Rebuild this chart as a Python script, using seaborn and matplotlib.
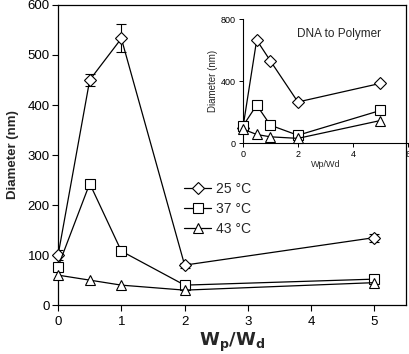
import matplotlib
matplotlib.use("Agg")
import matplotlib.pyplot as plt
import seaborn as sns
import numpy as np
import pandas as pd

# Diámetro de partícula vs relación Wp/Wd, con gráfico insertado

wp_wd = [0, 0.5, 1, 2, 5]
series = ["25 °C", "37 °C", "43 °C"]
marcadores = {"25 °C": "D", "37 °C": "s", "43 °C": "^"}
tamanos = {"25 °C": 6, "37 °C": 7.5, "43 °C": 7.5}

d25 = [100, 450, 533, 80, 135]
d37 = [77, 243, 108, 40, 52]
d43 = [60, 50, 40, 30, 45]
err25 = [10, 12, 28, 5, 8]

# inserto: DNA a polímero
ins25 = [100, 665, 530, 265, 385]
ins37 = [110, 245, 115, 50, 210]
ins43 = [90, 55, 40, 30, 145]

df = pd.DataFrame({
    "x": wp_wd * 3,
    "y": d25 + d37 + d43,
    "serie": sum([[s] * len(wp_wd) for s in series], []),
})
df_in = pd.DataFrame({
    "x": wp_wd * 3,
    "y": ins25 + ins37 + ins43,
    "serie": sum([[s] * len(wp_wd) for s in series], []),
})

sns.set_style("ticks")
plt.rcParams["font.family"] = ["Liberation Sans", "DejaVu Sans"]

fig = plt.figure(figsize=(4.09, 3.54), dpi=100)
ax = fig.add_axes([0.142, 0.138, 0.851, 0.848])

ax.errorbar(wp_wd, d25, yerr=err25, fmt="none", ecolor="black",
            elinewidth=0.8, capsize=3.5, capthick=0.8, zorder=2)
for s in series:
    sns.lineplot(data=df[df["serie"] == s], x="x", y="y", ax=ax, color="black",
                 marker=marcadores[s], markersize=tamanos[s], markerfacecolor="white",
                 markeredgecolor="black", markeredgewidth=0.8, linewidth=0.9,
                 label=s, clip_on=False, zorder=3)

ax.set_xlim(0, 5.5)
ax.set_ylim(0, 600)
ax.set_xticks([0, 1, 2, 3, 4, 5])
ax.set_yticks(range(0, 601, 100))
ax.tick_params(direction="out", length=4, width=0.8, labelsize=9.5, colors="black")
ax.tick_params(axis="y", pad=2)
for sp in ax.spines.values():
    sp.set_color("black")
    sp.set_linewidth(0.9)
ax.set_xlabel(r"$\mathbf{W_p/W_d}$", fontsize=13, labelpad=2)
ax.set_ylabel("Diameter (nm)", fontsize=9.5, fontweight="bold", labelpad=6)
ax.legend(loc="upper left", bbox_to_anchor=(0.345, 0.43), frameon=False,
          fontsize=10, handlelength=2.0, handletextpad=0.3, labelspacing=0.45,
          borderaxespad=0)

# gráfico insertado
axi = fig.add_axes([0.594, 0.596, 0.403, 0.350])
for s in series:
    sns.lineplot(data=df_in[df_in["serie"] == s], x="x", y="y", ax=axi, color="black",
                 marker=marcadores[s], markersize=tamanos[s], markerfacecolor="white",
                 markeredgecolor="black", markeredgewidth=0.8, linewidth=0.9,
                 legend=False, clip_on=False, zorder=3)
axi.set_xlim(0, 6)
axi.set_ylim(0, 800)
axi.set_xticks([0, 2, 4, 6])
axi.set_yticks([0, 400, 800])
axi.patch.set_alpha(0)
axi.spines["top"].set_visible(False)
axi.spines["right"].set_visible(False)
for sp in ["left", "bottom"]:
    axi.spines[sp].set_color("black")
    axi.spines[sp].set_linewidth(0.8)
axi.tick_params(direction="out", length=3, width=0.7, labelsize=6.5, pad=2, colors="black")
axi.set_xlabel("Wp/Wd", fontsize=6.5, labelpad=1)
axi.set_ylabel("Diameter (nm)", fontsize=7, labelpad=2)
axi.text(0.33, 0.88, "DNA to Polymer", transform=axi.transAxes, fontsize=8.5,
         ha="left", va="center")

fig.savefig("out.png", dpi=100)
